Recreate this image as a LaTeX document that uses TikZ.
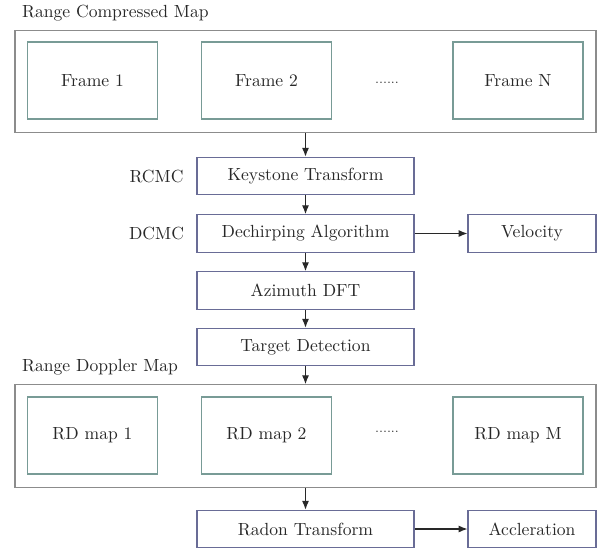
\documentclass[tikz,border=0pt]{standalone}
\usepackage{tikz}
\usetikzlibrary{arrows.meta}
\usepackage{xcolor}
\definecolor{mapgrey}{RGB}{140,140,140}
\definecolor{framegreen}{RGB}{120,155,150}
\definecolor{stepblue}{RGB}{105,108,150}
\definecolor{textgrey}{RGB}{40,40,40}

\begin{document}
\begin{tikzpicture}[x=0.02cm,y=-0.02cm,
    mapbox/.style={draw=mapgrey,line width=0.7pt,minimum width=11.62cm,minimum height=2.05cm,inner sep=0pt},
    framebox/.style={draw=framegreen,line width=0.7pt,minimum width=2.6cm,minimum height=1.54cm,inner sep=0pt,text=textgrey},
    stepbox/.style={draw=stepblue,line width=0.7pt,minimum width=4.34cm,minimum height=0.75cm,inner sep=0pt,text=textgrey},
    outbox/.style={draw=stepblue,line width=0.7pt,minimum width=2.56cm,minimum height=0.75cm,inner sep=0pt,text=textgrey},
    arr/.style={-{Latex[length=5pt,width=4pt]},line width=0.6pt,textgrey}]
    \useasboundingbox (0,0) rectangle (602,551);

    % Range compressed map
    \node[anchor=west,text=textgrey] (rcmtitle) at (16,13) {Range Compressed Map};
    \node[mapbox] (rcm) at (305.5,81.5) {};
    \node[framebox] (frame1) at (92.5,80.5) {Frame 1};
    \node[framebox] (frame2) at (266.5,80.5) {Frame 2};
    \node[text=textgrey,font=\scriptsize] (fdots) at (387,83) {......};
    \node[framebox] (frameN) at (518,80.5) {Frame N};

    % Processing steps
    \node[stepbox] (keystone) at (305.5,176) {Keystone Transform};
    \node[stepbox] (dechirp) at (305.5,233.5) {Dechirping Algorithm};
    \node[stepbox] (azimuth) at (305.5,290.5) {Azimuth DFT};
    \node[stepbox] (detect) at (305.5,347) {Target Detection};
    \node[outbox] (velocity) at (532,233.5) {Velocity};
    \node[text=textgrey] (rcmc) at (156.5,176) {RCMC};
    \node[text=textgrey] (dcmc) at (156.5,233.5) {DCMC};

    % Range doppler map
    \node[anchor=west,text=textgrey] (rdmtitle) at (16,367) {Range Doppler Map};
    \node[mapbox] (rdm) at (305.5,436) {};
    \node[framebox] (rd1) at (92.5,435.5) {RD map 1};
    \node[framebox] (rd2) at (266.5,435.5) {RD map 2};
    \node[text=textgrey,font=\scriptsize] (rddots) at (387,432) {......};
    \node[framebox] (rdM) at (518,435.5) {RD map M};

    % Radon step
    \node[stepbox] (radon) at (305.5,529) {Radon Transform};
    \node[outbox] (accel) at (532,529) {Accleration};

    % Arrows
    \draw[arr] (rcm.south) -- (keystone.north);
    \draw[arr] (keystone) -- (dechirp);
    \draw[arr] (dechirp) -- (azimuth);
    \draw[arr] (azimuth) -- (detect);
    \draw[arr] (detect.south) -- (rdm.north);
    \draw[arr] (dechirp) -- (velocity);
    \draw[arr] (rdm.south) -- (radon.north);
    \draw[arr] (radon) -- (accel);
  \end{tikzpicture}
\end{document}
